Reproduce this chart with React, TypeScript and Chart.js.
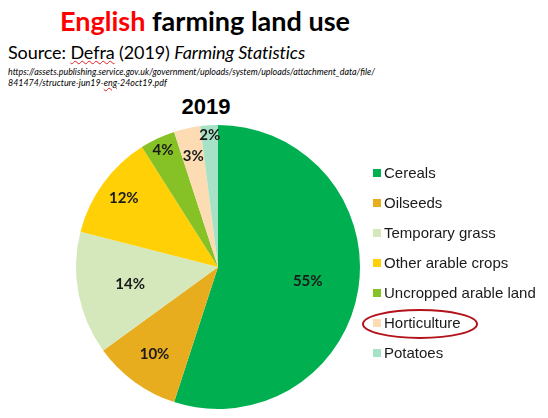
import React, { useEffect, useRef } from 'react'
import Chart from 'chart.js/auto'

const categories = ['Cereals', 'Oilseeds', 'Temporary grass', 'Other arable crops', 'Uncropped arable land', 'Horticulture', 'Potatoes']
const shares = [55, 10, 14, 12, 4, 3, 2]
const colors = ['#00B050', '#E8AD1E', '#D5E8BC', '#FFD006', '#86C226', '#FDDCB4', '#A8E2C6']
// how far out each percentage label sits, as a fraction of the radius
const labelRadius = [0.64, 0.76, 0.63, 0.82, 0.91, 0.8, 0.93]
const circledCategory = 'Horticulture'

const labelsPlugin = {
    id: 'pieLabels',
    afterDatasetsDraw(chart: any) {
        const ctx = chart.ctx
        const meta = chart.getDatasetMeta(0)
        ctx.save()
        ctx.font = 'bold 15px Lato, "Open Sans", sans-serif'
        ctx.fillStyle = '#1a1a1a'
        ctx.textAlign = 'center'
        ctx.textBaseline = 'middle'
        meta.data.forEach((arc: any, i: number) => {
            const mid = (arc.startAngle + arc.endAngle) / 2
            const r = arc.outerRadius * labelRadius[i]
            ctx.fillText(shares[i] + '%', arc.x + Math.cos(mid) * r, arc.y + Math.sin(mid) * r)
        })
        ctx.restore()
    }
}

const legendPlugin = {
    id: 'sideLegend',
    afterDraw(chart: any) {
        const ctx = chart.ctx
        const x = 373
        const top = 55
        const step = 30
        ctx.save()
        ctx.font = '15px "Liberation Sans", Arial, sans-serif'
        ctx.textBaseline = 'middle'
        chart.data.labels.forEach((label: string, i: number) => {
            const y = top + i * step
            ctx.fillStyle = chart.data.datasets[0].backgroundColor[i]
            ctx.fillRect(x, y - 4, 8, 8)
            ctx.fillStyle = '#1a1a1a'
            ctx.fillText(label, x + 11, y + 1)
            if (label === circledCategory) {
                ctx.strokeStyle = '#B3121B'
                ctx.lineWidth = 2
                ctx.beginPath()
                ctx.ellipse(x + 47, y + 1, 57, 14, 0, 0, Math.PI * 2)
                ctx.stroke()
            }
        })
        ctx.restore()
    }
}

const PieChart: React.FC = () => {
    const chartRef = useRef<HTMLCanvasElement>(null)
    const chartInstance = useRef<Chart | null>(null)

    useEffect(() => {
        if (chartRef.current) {
            const ctx = chartRef.current.getContext('2d')
            if (ctx) {
                if (chartInstance.current) {
                    chartInstance.current.destroy()
                }
                chartInstance.current = new Chart(ctx, {
                    type: 'pie',
                    data: {
                        labels: categories,
                        datasets: [{
                            data: shares,
                            backgroundColor: colors,
                            borderWidth: 0
                        }]
                    },
                    options: {
                        responsive: false,
                        animation: false,
                        layout: { padding: { top: 7, bottom: 9, left: 0, right: 112 } },
                        plugins: {
                            legend: { display: false },
                            tooltip: { enabled: false }
                        }
                    },
                    plugins: [labelsPlugin, legendPlugin]
                })
            }
        }
        return () => {
            if (chartInstance.current) {
                chartInstance.current.destroy()
                chartInstance.current = null
            }
        }
    }, [])

    return <canvas ref={chartRef} width={548} height={300} style={{ position: 'absolute', left: 0, top: 118 }}></canvas>
}

const squiggle: React.CSSProperties = {
    textDecorationLine: 'underline',
    textDecorationStyle: 'wavy',
    textDecorationColor: '#E02020',
    textDecorationThickness: '1px'
}

export default function App() {
    return (
        <div style={{ position: 'fixed', left: 0, top: 0, width: 548, height: 418, background: '#fff', overflow: 'hidden' }}>
            <div style={{ position: 'absolute', left: 0, width: 410, top: 4, textAlign: 'center', font: 'bold 27px Lato, sans-serif', lineHeight: '34px', color: '#000' }}>
                <span style={{ color: '#FF0000' }}>English</span> farming land use
            </div>
            <div style={{ position: 'absolute', left: 8, top: 40, font: '18px Lato, sans-serif', lineHeight: '24px', color: '#000', whiteSpace: 'nowrap', letterSpacing: '-0.1px' }}>
                Source: <span style={squiggle}>Defra</span> (2019) <i>Farming Statistics</i>
            </div>
            <div style={{ position: 'absolute', left: 8, top: 66, font: 'italic 8.9px Lato, sans-serif', lineHeight: '11px', color: '#000', whiteSpace: 'nowrap' }}>
                https://assets.publishing.service.gov.uk/government/uploads/system/uploads/attachment_data/file/<br />
                841474/structure-jun19-<span style={squiggle}>eng</span>-24oct19.pdf
            </div>
            <div style={{ position: 'absolute', left: 156, width: 100, top: 94, textAlign: 'center', font: 'bold 22px "Liberation Sans", Arial, sans-serif', lineHeight: '26px', color: '#000' }}>
                2019
            </div>
            <PieChart />
        </div>
    )
}
